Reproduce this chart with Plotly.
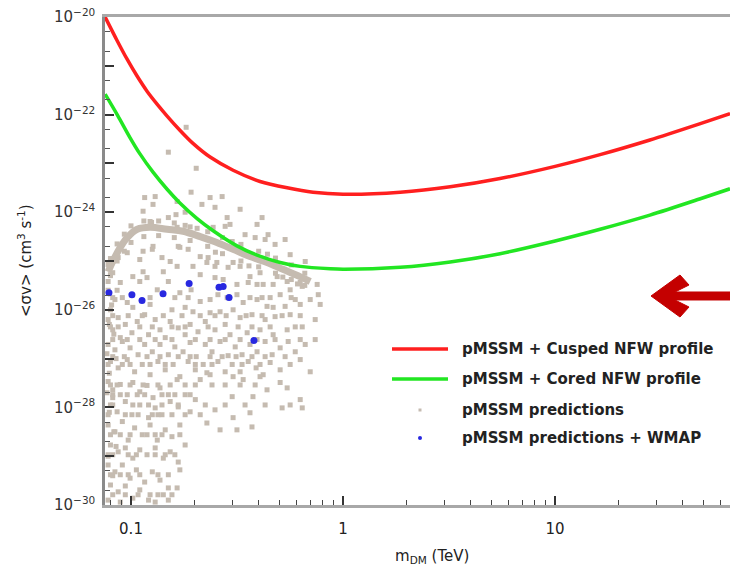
import math
import plotly.graph_objects as go

# ---------------- data ----------------
x_range_tev = [0.0754, 66.8]
y_range_exp = [-30, -20]
x_tick_vals = [0.1, 1, 10]
x_tick_text = ["0.1", "1", "10"]
y_tick_exps = list(range(-30, -19))
y_label_exps = [-30, -28, -26, -24, -22, -20]

# pMSSM + Cusped NFW profile (mass in TeV, log10 <sigma v>)
red_mass = [0.0755, 0.0857, 0.0957, 0.1068, 0.119, 0.133, 0.148, 0.170, 0.196, 0.236,
            0.303, 0.406, 0.545, 0.722, 1.0, 1.86, 3.2, 5.5, 10, 16.3, 28, 48, 66.8]
red_log = [-20.0, -20.47, -20.86, -21.21, -21.52, -21.79, -22.03, -22.32, -22.59, -22.87,
           -23.14, -23.37, -23.50, -23.59, -23.63, -23.59, -23.48, -23.31, -23.06, -22.82,
           -22.52, -22.19, -21.98]

# pMSSM + Cored NFW profile
green_mass = [0.0755, 0.0866, 0.0989, 0.110, 0.127, 0.148, 0.170, 0.205, 0.244, 0.316,
              0.393, 0.505, 0.628, 0.87, 1.0, 1.86, 3.2, 5.5, 10, 16.3, 28, 48, 66.8]
green_log = [-21.58, -22.02, -22.47, -22.80, -23.18, -23.53, -23.81, -24.13, -24.38, -24.69,
             -24.88, -25.03, -25.11, -25.16, -25.17, -25.13, -25.02, -24.85, -24.59, -24.35,
             -24.06, -23.73, -23.52]

# dense ridge of pMSSM predictions
ridge_mass = [0.078, 0.082, 0.089, 0.096, 0.107, 0.123, 0.148, 0.176, 0.212, 0.254,
              0.303, 0.364, 0.438, 0.52, 0.626, 0.70]
ridge_log = [-25.22, -25.01, -24.72, -24.52, -24.35, -24.31, -24.35, -24.39, -24.50, -24.62,
             -24.76, -24.91, -25.03, -25.17, -25.32, -25.42]
ridge_upper = [(0.080, -24.95), (0.086, -24.65), (0.093, -24.45), (0.100, -24.28), (0.115, -24.18),
               (0.135, -24.18), (0.160, -24.22), (0.19, -24.30), (0.23, -24.40), (0.27, -24.52),
               (0.33, -24.66), (0.40, -24.80), (0.48, -24.94), (0.57, -25.08), (0.66, -25.25),
               (0.125, -24.21), (0.205, -24.33), (0.30, -24.60), (0.44, -24.86)]
ridge_lower = [(0.080, -25.30), (0.086, -25.00), (0.093, -24.80), (0.100, -24.62), (0.115, -24.50),
               (0.135, -24.48), (0.160, -24.52), (0.19, -24.58), (0.23, -24.70), (0.27, -24.85),
               (0.33, -25.00), (0.40, -25.12), (0.48, -25.25), (0.57, -25.38), (0.66, -25.50),
               (0.36, -25.10), (0.52, -25.33), (0.61, -25.47), (0.25, -24.82)]

gray_above = [(0.182, -22.26), (0.150, -22.77), (0.203, -23.10), (0.192, -23.59), (0.116, -23.70),
              (0.130, -23.68), (0.127, -23.84), (0.114, -23.98), (0.165, -23.78), (0.216, -23.84),
              (0.236, -23.70), (0.249, -23.90), (0.269, -23.68), (0.327, -23.94), (0.150, -24.11),
              (0.163, -24.05), (0.180, -24.00), (0.284, -24.11), (0.293, -24.25), (0.415, -24.11),
              (0.393, -24.25), (0.443, -24.46), (0.123, -24.19), (0.165, -24.31), (0.180, -24.27),
              (0.244, -24.31), (0.278, -24.29), (0.478, -24.66), (0.563, -24.87), (0.663, -25.01),
              (0.533, -24.56), (0.429, -24.56), (0.345, -24.46), (0.385, -24.52)]

gray_near = [(0.114, -24.80), (0.126, -24.76), (0.110, -24.97), (0.140, -24.93), (0.170, -24.72),
             (0.186, -24.76), (0.153, -25.01), (0.165, -25.11), (0.142, -25.22), (0.212, -24.91),
             (0.228, -25.03), (0.249, -25.11), (0.196, -25.11), (0.212, -25.28), (0.287, -25.13),
             (0.303, -25.03), (0.249, -25.34), (0.272, -25.38), (0.364, -25.32), (0.393, -25.48),
             (0.468, -25.48), (0.545, -25.42), (0.628, -25.44), (0.755, -25.48), (0.078, -25.07),
             (0.080, -25.28), (0.078, -25.42), (0.087, -24.93), (0.110, -25.42), (0.102, -25.32),
             (0.114, -25.22), (0.096, -24.83), (0.127, -24.70), (0.167, -24.70), (0.231, -24.93),
             (0.254, -25.03), (0.327, -25.11), (0.406, -25.24), (0.489, -25.32), (0.642, -25.52),
             (0.764, -25.69), (0.563, -25.59), (0.420, -25.48), (0.357, -25.44), (0.316, -25.48),
             (0.082, -25.24), (0.089, -25.44), (0.119, -25.34), (0.150, -25.42), (0.133, -25.59),
             (0.170, -25.65), (0.192, -25.59)]

gray_mid = [(0.212, -25.83), (0.236, -25.79), (0.257, -25.69), (0.316, -25.69), (0.338, -25.85),
            (0.393, -25.79), (0.438, -25.93), (0.468, -25.95), (0.533, -25.93), (0.628, -25.89),
            (0.084, -25.79), (0.096, -25.85), (0.102, -25.95), (0.123, -25.89), (0.156, -26.00),
            (0.180, -25.95), (0.196, -26.04), (0.236, -26.06), (0.263, -26.04), (0.303, -26.00),
            (0.327, -26.16), (0.372, -26.10), (0.429, -26.20), (0.478, -26.14), (0.563, -26.10),
            (0.642, -26.35), (0.545, -26.41), (0.468, -26.51), (0.406, -26.41), (0.353, -26.47),
            (0.080, -26.00), (0.078, -26.20), (0.087, -26.16), (0.094, -26.30), (0.107, -26.24),
            (0.116, -26.10), (0.130, -26.20), (0.137, -26.41), (0.153, -26.24), (0.167, -26.37),
            (0.190, -26.30), (0.207, -26.45), (0.224, -26.24), (0.249, -26.41), (0.278, -26.30),
            (0.293, -26.51), (0.082, -26.41), (0.089, -26.57), (0.101, -26.47), (0.121, -26.51),
            (0.145, -26.57), (0.180, -26.51), (0.700, -25.79), (0.739, -26.20), (0.595, -25.79),
            (0.505, -25.69), (0.453, -25.75), (0.780, -25.89)]

gray_lowmid = [(0.078, -26.71), (0.084, -26.82), (0.091, -26.65), (0.099, -26.78), (0.108, -26.92),
               (0.116, -26.71), (0.126, -26.86), (0.137, -26.71), (0.150, -26.92), (0.161, -26.76),
               (0.176, -26.86), (0.190, -26.67), (0.203, -26.96), (0.224, -26.71), (0.241, -26.86),
               (0.263, -26.65), (0.287, -26.94), (0.310, -26.76), (0.334, -26.92), (0.364, -26.71),
               (0.393, -26.86), (0.429, -26.65), (0.463, -26.92), (0.505, -26.78), (0.551, -26.65),
               (0.595, -26.86), (0.663, -26.71), (0.080, -27.06), (0.087, -27.19), (0.096, -27.02),
               (0.104, -27.27), (0.113, -27.12), (0.123, -27.33), (0.134, -27.06), (0.145, -27.23),
               (0.158, -27.12), (0.170, -27.37), (0.186, -27.06), (0.201, -27.23), (0.219, -27.12),
               (0.236, -27.33), (0.257, -27.06), (0.278, -27.27), (0.300, -27.12), (0.327, -27.27),
               (0.357, -27.06), (0.389, -27.19), (0.420, -27.33), (0.453, -27.08), (0.505, -27.23),
               (0.563, -27.12), (0.628, -27.02), (0.700, -27.27)]

gray_low = [(0.078, -27.47), (0.082, -27.64), (0.089, -27.53), (0.096, -27.74), (0.102, -27.49),
            (0.110, -27.68), (0.119, -27.55), (0.127, -27.80), (0.137, -27.60), (0.150, -27.74),
            (0.165, -27.43), (0.212, -27.43), (0.228, -27.29), (0.303, -27.37), (0.338, -27.43),
            (0.406, -27.37), (0.438, -27.64), (0.505, -27.49), (0.545, -27.60), (0.628, -27.84),
            (0.642, -28.01), (0.516, -28.01), (0.376, -27.78), (0.300, -27.78), (0.249, -28.05),
            (0.190, -28.09), (0.167, -27.99), (0.080, -27.95), (0.086, -28.09), (0.094, -27.88),
            (0.101, -28.15), (0.110, -27.95), (0.121, -28.21), (0.130, -28.01), (0.140, -28.15),
            (0.153, -27.88), (0.180, -27.74), (0.201, -27.84)]

gray_bottom = [(0.228, -28.32), (0.263, -28.46), (0.316, -28.46), (0.372, -28.40), (0.303, -28.21),
               (0.364, -28.11), (0.078, -28.36), (0.084, -28.50), (0.091, -28.29), (0.097, -28.67),
               (0.104, -28.42), (0.113, -28.56), (0.123, -28.36), (0.133, -28.67), (0.145, -28.46),
               (0.156, -28.60), (0.170, -28.36), (0.180, -28.77), (0.080, -28.77), (0.087, -28.91),
               (0.094, -28.83), (0.102, -29.04), (0.110, -28.87), (0.119, -28.97), (0.130, -28.83),
               (0.142, -29.04), (0.153, -28.91), (0.167, -29.12), (0.078, -29.18), (0.084, -29.32),
               (0.091, -29.18), (0.099, -29.45), (0.106, -29.28), (0.116, -29.53), (0.126, -29.32),
               (0.137, -29.49), (0.150, -29.65), (0.165, -29.65), (0.170, -29.28), (0.080, -29.59),
               (0.087, -29.73), (0.094, -29.61), (0.102, -29.86), (0.110, -29.69), (0.121, -29.90),
               (0.142, -29.79), (0.150, -29.90), (0.078, -29.90), (0.089, -29.94), (0.130, -29.94)]

gray_left = [(0.078, -25.60), (0.081, -25.90), (0.079, -26.30), (0.083, -26.50), (0.079, -27.30),
             (0.082, -27.80), (0.079, -28.10), (0.083, -28.50), (0.078, -29.00), (0.082, -29.40),
             (0.085, -27.00), (0.086, -25.60), (0.085, -28.80), (0.077, -26.90), (0.077, -27.70)]

# extra rows of the cloud: log10 <sigma v> of the row, and masses (TeV) of the points in it
cloud_row_log = [-25.75, -26.12, -26.35, -26.61, -26.96, -27.12, -27.54, -27.74, -27.95,
                 -28.15, -28.56, -28.97, -29.38, -29.79]
cloud_row_mass = [
    [0.082, 0.091, 0.123, 0.161, 0.186, 0.284, 0.364, 0.415, 0.569],
    [0.082, 0.097, 0.113, 0.142, 0.174, 0.212, 0.249, 0.281, 0.349, 0.415, 0.516, 0.628],
    [0.080, 0.087, 0.110, 0.126, 0.156, 0.180, 0.231, 0.320, 0.372, 0.453, 0.595],
    [0.082, 0.096, 0.110, 0.130, 0.156, 0.201, 0.236, 0.278, 0.327, 0.393, 0.478, 0.628, 0.739],
    [0.082, 0.093, 0.119, 0.137, 0.167, 0.190, 0.236, 0.269, 0.313, 0.372, 0.429, 0.533],
    [0.078, 0.091, 0.099, 0.123, 0.145, 0.201, 0.241, 0.334, 0.406],
    [0.080, 0.086, 0.099, 0.114, 0.134, 0.153, 0.180, 0.201, 0.241, 0.278, 0.327, 0.385],
    [0.082, 0.089, 0.107, 0.116, 0.140, 0.161, 0.190],
    [0.082, 0.102, 0.121, 0.140, 0.167, 0.224, 0.278, 0.345, 0.429, 0.563],
    [0.078, 0.094, 0.108, 0.126, 0.134, 0.156, 0.180, 0.212],
    [0.080, 0.089, 0.099, 0.119, 0.130, 0.140, 0.170],
    [0.078, 0.082, 0.097, 0.106, 0.130, 0.145, 0.161],
    [0.080, 0.089, 0.097, 0.110, 0.134, 0.150],
    [0.082, 0.094, 0.108, 0.123, 0.134, 0.156],
]

# pMSSM predictions + WMAP
blue_mass = [0.0787, 0.101, 0.1127, 0.1416, 0.188, 0.260, 0.272, 0.290, 0.380]
blue_log = [-25.65, -25.69, -25.81, -25.67, -25.46, -25.54, -25.52, -25.75, -26.63]

legend_labels = ["pMSSM + Cusped NFW profile", "pMSSM + Cored NFW profile",
                 "pMSSM predictions", "pMSSM predictions + WMAP"]

# ---------------- styles ----------------
RED = "#ff1f1f"
GREEN = "#22e622"
TAN = "#c5bbb0"
BLUE = "#2828e0"
FONT = "DejaVu Sans"

fig = go.Figure()

gray_all = (gray_above + gray_near + gray_mid + gray_lowmid + gray_low + gray_bottom + gray_left
            + ridge_upper + ridge_lower)
for lv, masses in zip(cloud_row_log, cloud_row_mass):
    gray_all += [(m, lv) for m in masses]

fig.add_trace(go.Scatter(
    x=[p[0] for p in gray_all], y=[10 ** p[1] for p in gray_all],
    mode="markers", marker=dict(symbol="square", size=5, color=TAN, line=dict(width=0)),
    showlegend=False, hoverinfo="skip"))
fig.add_trace(go.Scatter(
    x=ridge_mass, y=[10 ** v for v in ridge_log], mode="lines",
    line=dict(color=TAN, width=7, shape="spline"), showlegend=False, hoverinfo="skip"))
fig.add_trace(go.Scatter(
    x=blue_mass, y=[10 ** v for v in blue_log], mode="markers",
    marker=dict(symbol="circle", size=7, color=BLUE), showlegend=False))
fig.add_trace(go.Scatter(
    x=green_mass, y=[10 ** v for v in green_log], mode="lines",
    line=dict(color=GREEN, width=3.5, shape="spline", smoothing=0.8), showlegend=False))
fig.add_trace(go.Scatter(
    x=red_mass, y=[10 ** v for v in red_log], mode="lines",
    line=dict(color=RED, width=3.5, shape="spline", smoothing=0.8), showlegend=False))

# plot area: x 105..730 px, y 17..505 px
L, R, T, B = 105, 730, 17, 505
W, H = R - L, B - T


def px(x):
    return (x - L) / W


def py(y):
    return (B - y) / H


shapes = []
# legend symbols
shapes.append(dict(type="line", xref="paper", yref="paper", x0=px(392), x1=px(448), y0=py(349), y1=py(349),
                   line=dict(color=RED, width=3.5)))
shapes.append(dict(type="line", xref="paper", yref="paper", x0=px(392), x1=px(448), y0=py(379), y1=py(379),
                   line=dict(color=GREEN, width=3.5)))
shapes.append(dict(type="rect", xref="paper", yref="paper", x0=px(418.5), x1=px(421.5), y0=py(411.5), y1=py(408.5),
                   fillcolor=TAN, line=dict(width=0)))
shapes.append(dict(type="circle", xref="paper", yref="paper", x0=px(418), x1=px(422), y0=py(440), y1=py(436),
                   fillcolor=BLUE, line=dict(width=0)))
# red arrow
pts = [(651, 296), (680, 275), (689, 285), (675, 292), (730, 292), (730, 300), (675, 300), (689, 307), (680, 317)]
path = "M " + " L ".join(f"{px(a):.4f},{py(b):.4f}" for a, b in pts) + " Z"
shapes.append(dict(type="path", xref="paper", yref="paper", path=path, fillcolor="#c40000",
                   line=dict(color="#c40000", width=1)))

annotations = []
for lbl, yy in zip(legend_labels, [349, 379, 410, 438]):
    annotations.append(dict(xref="paper", yref="paper", x=px(460), y=py(yy), xanchor="left", yanchor="middle",
                            text=f"<b>{lbl}</b>", showarrow=False,
                            font=dict(family=FONT, size=15, color="#222")))
annotations.append(dict(xref="paper", yref="paper", x=px(25), y=py(261), xanchor="center", yanchor="middle",
                        textangle=-90, showarrow=False,
                        text="&lt;σv&gt; (cm<sup>3</sup> s<sup>-1</sup>)",
                        font=dict(family=FONT, size=15, color="#222")))
annotations.append(dict(xref="paper", yref="paper", x=px(432), y=py(556), xanchor="center", yanchor="middle",
                        showarrow=False, text="m<sub>DM</sub> (TeV)",
                        font=dict(family=FONT, size=15, color="#222")))

y_tick_vals = [10 ** e for e in y_tick_exps]
y_tick_text = [f"10<sup>−{-e}</sup>" if e in y_label_exps else "" for e in y_tick_exps]

fig.update_layout(
    width=730, height=569,
    margin=dict(l=L, r=730 - R, t=T, b=569 - B, pad=0),
    paper_bgcolor="white", plot_bgcolor="white",
    showlegend=False,
    shapes=shapes, annotations=annotations,
    xaxis=dict(type="log", range=[math.log10(x_range_tev[0]), math.log10(x_range_tev[1])],
               tickmode="array", tickvals=x_tick_vals, ticktext=x_tick_text,
               ticks="inside", ticklen=9, tickwidth=1.5, tickcolor="#333",
               minor=dict(ticks="inside", ticklen=5, tickwidth=1.2, tickcolor="#444", dtick="D1", showgrid=False),
               showline=True, linecolor="#a8a8a8", linewidth=3, mirror=True,
               showgrid=False, zeroline=False, ticklabelstandoff=8,
               tickfont=dict(family=FONT, size=15, color="#222")),
    yaxis=dict(type="log", range=y_range_exp,
               tickmode="array", tickvals=y_tick_vals, ticktext=y_tick_text,
               ticks="inside", ticklen=9, tickwidth=1.5, tickcolor="#333",
               minor=dict(ticks="inside", ticklen=5, tickwidth=1.2, tickcolor="#555", dtick="D2", showgrid=False),
               showline=True, linecolor="#8a8a8a", linewidth=2.5, mirror=False,
               showgrid=False, zeroline=False, ticklabelstandoff=4,
               tickfont=dict(family=FONT, size=15, color="#333")),
)

fig.write_html("out.html")
